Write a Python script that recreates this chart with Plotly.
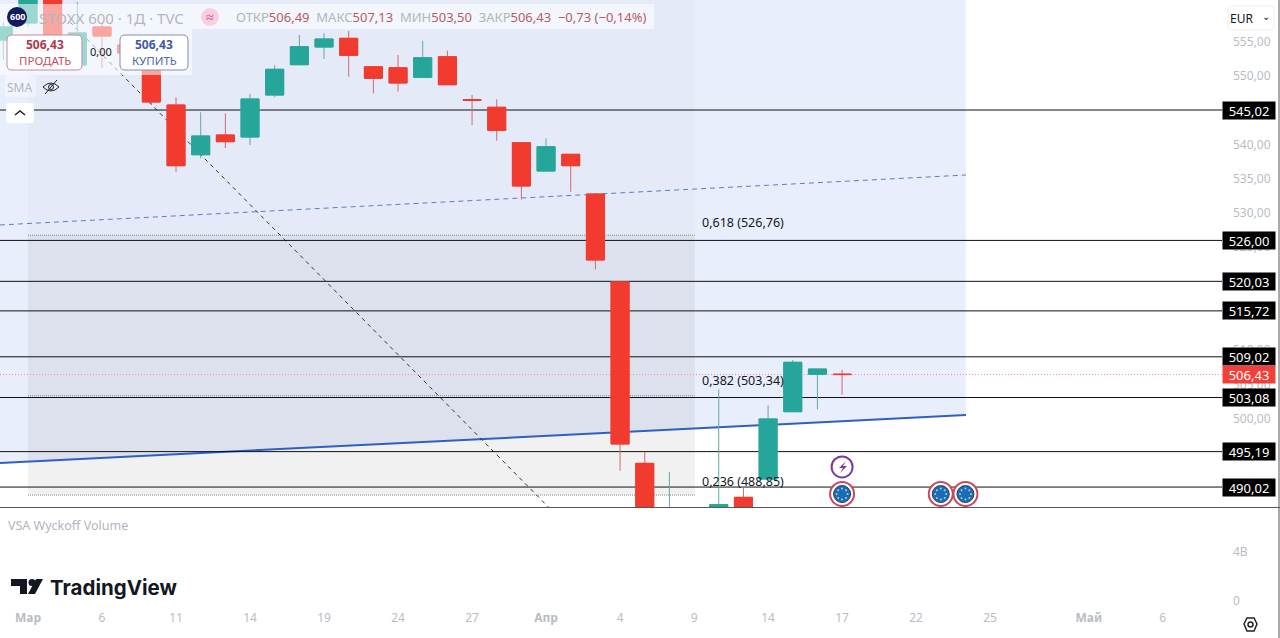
import math
import plotly.graph_objects as go

W, H = 1280, 638

# trading bars, x = bar number counted from 3 March
bar_x = list(range(-1, 34))
opens = [555.23, 557.72, 563.0, 551.59, 557.13, 554.5, 552.32, 545.75, 538.5, 541.38, 541.08, 547.21,
         551.63, 554.21, 555.48, 551.34, 551.19, 549.79, 552.8, 546.54, 545.42, 540.25, 536.12, 538.56,
         532.77, 519.93, 493.48, 476.0, 478.0, 482.0, 488.52, 491.19, 501.01, 506.47, 506.49]
highs = [557.86, 565.0, 564.0, 560.78, 557.71, 555.3, 553.8, 546.88, 544.69, 544.54, 547.36, 551.59,
         555.96, 556.21, 556.55, 551.34, 553.05, 555.13, 553.67, 547.21, 546.58, 540.25, 540.89, 538.56,
         532.77, 519.93, 495.13, 492.22, 484.0, 504.28, 490.07, 501.94, 508.55, 507.24, 507.13]
lows = [552.32, 557.2, 554.0, 551.0, 551.15, 552.6, 545.75, 536.02, 537.98, 539.48, 539.92, 546.88,
        551.6, 552.46, 549.88, 547.46, 547.69, 549.79, 548.71, 542.84, 540.54, 531.96, 536.12, 533.1,
        521.78, 492.4, 480.0, 470.0, 468.0, 478.0, 481.0, 491.19, 501.01, 501.36, 503.5]
closes = [557.13, 563.0, 554.5, 556.26, 555.82, 553.34, 546.19, 536.9, 541.23, 540.4, 546.63, 550.96,
          554.26, 555.38, 553.0, 549.65, 548.96, 552.65, 548.71, 546.45, 542.06, 533.94, 539.67, 536.9,
          523.14, 496.3, 484.0, 482.0, 473.0, 487.45, 484.0, 499.95, 508.22, 507.24, 506.43]

levels = [545.02, 526.00, 520.03, 515.72, 509.02, 503.08, 495.19, 490.02]
last_price = 506.43

fib_ratios = ["0,618", "0,382", "0,236"]
fib_prices = [526.76, 503.34, 488.85]

# 545, 520 and 515 sit fully behind the price tags in the picture
price_ticks = [500, 505, 510, 525, 530, 535, 540, 550, 555]
volume_ticks = [0, 4]
volume_labels = ["0", "4B"]

date_ticks = [0, 3, 6, 9, 12, 15, 18, 21, 24, 27, 30, 33, 36, 39, 43, 46]
date_labels = ["<b>Мар</b>", "6", "11", "14", "19", "24", "27", "<b>Апр</b>", "4", "9", "14", "17", "22", "25",
               "<b>Май</b>", "6"]

channel_x = [-1.135, 38.02]
channel_top = [528.25, 535.54]
channel_bottom = [493.53, 500.53]
diagonal_x = [1.70, 21.09]
diagonal_y = [557.86, 487.11]

event_x = [33, 37, 38]
event_y = [489.0, 489.0, 489.0]
bolt_x = [33]
bolt_y = [492.95]

X_RANGE = [-1.135, 48.4]
Y_RANGE = [487.11, 561.07]
RED = "#f23a2e"
GREEN = "#26a69a"
TICK = "#b9bcc4"
FONT = "Noto Sans"


def fmt(v):
    return f"{v:.2f}".replace(".", ",")


def px(x, y):
    return f"{x / W:.5f} {1 - y / H:.5f}"


def pane_shape(path, fill=None, line=None, width=1):
    # path is given in screen pixels and converted to paper units here
    parts = []
    for cmd in path:
        if len(cmd) == 1:
            parts.append(cmd[0])
        else:
            coords = cmd[1:]
            parts.append(cmd[0] + " " + " ".join(px(coords[i], coords[i + 1]) for i in range(0, len(coords), 2)))
    return dict(type="path", xref="paper", yref="paper", path=" ".join(parts), fillcolor=fill or "rgba(0,0,0,0)",
                line=dict(color=line or "rgba(0,0,0,0)", width=width), layer="above")


def rounded(x0, y0, x1, y1, r, **kw):
    path = [("M", x0 + r, y0), ("L", x1 - r, y0), ("Q", x1, y0, x1, y0 + r), ("L", x1, y1 - r),
            ("Q", x1, y1, x1 - r, y1), ("L", x0 + r, y1), ("Q", x0, y1, x0, y1 - r), ("L", x0, y0 + r),
            ("Q", x0, y0, x0 + r, y0), ("Z",)]
    return pane_shape(path, **kw)


def circle(cx, cy, r, fill=None, line=None, width=1):
    return dict(type="circle", xref="paper", yref="paper", x0=(cx - r) / W, x1=(cx + r) / W, y0=1 - (cy + r) / H,
                y1=1 - (cy - r) / H, fillcolor=fill or "rgba(0,0,0,0)",
                line=dict(color=line or "rgba(0,0,0,0)", width=width), layer="above")


def label(x, y, text, size=12, color="#000", anchor="left", family=FONT):
    # annotations pad their text by a couple of pixels
    if anchor == "left":
        x -= 2
    return dict(xref="paper", yref="paper", x=x / W, y=1 - y / H, text=text, showarrow=False, xanchor=anchor,
                yanchor="middle", font=dict(family=family, size=size, color=color))


def tag(price, bg):
    return dict(xref="paper", yref="y", x=1249 / W, y=price, text=fmt(price), showarrow=False, width=52, height=17,
                xanchor="center", bgcolor=bg, align="center", borderpad=0,
                font=dict(family=FONT, size=13, color="white"))


fig = go.Figure()

# wicks first, bodies on top in their own colours
fig.add_trace(go.Candlestick(x=bar_x, open=opens, high=highs, low=lows, close=closes, whiskerwidth=0,
                             increasing=dict(line=dict(color="#62a9a0", width=1), fillcolor="rgba(0,0,0,0)"),
                             decreasing=dict(line=dict(color="#d0696c", width=1), fillcolor="rgba(0,0,0,0)"),
                             showlegend=False))
fig.add_trace(go.Candlestick(x=bar_x, open=opens, close=closes,
                             high=[max(o, c) for o, c in zip(opens, closes)],
                             low=[min(o, c) for o, c in zip(opens, closes)], whiskerwidth=0,
                             increasing=dict(line=dict(color=GREEN, width=1), fillcolor=GREEN),
                             decreasing=dict(line=dict(color=RED, width=1), fillcolor=RED),
                             showlegend=False))

# the volume pane is empty in the picture, it only needs its axis
fig.add_trace(go.Scatter(x=[], y=[], yaxis="y2", showlegend=False))

# event badges
fig.add_trace(go.Scatter(x=event_x, y=event_y, mode="markers", showlegend=False,
                         marker=dict(size=24, color="white", line=dict(color="#c8485e", width=2))))
fig.add_trace(go.Scatter(x=event_x, y=event_y, mode="markers", showlegend=False,
                         marker=dict(size=17, color="#1c6cb4", line=dict(color="#2a3f5f", width=1))))
dot_x, dot_y = [], []
for ex, ey in zip(event_x, event_y):
    for k in range(8):
        dot_x.append(ex + 5.5 / 24.67 * math.cos(k * math.pi / 4))
        dot_y.append(ey + 5.5 / 6.855 * math.sin(k * math.pi / 4))
fig.add_trace(go.Scatter(x=dot_x, y=dot_y, mode="markers", showlegend=False,
                         marker=dict(size=2, color="#a6cdf0")))
fig.add_trace(go.Scatter(x=bolt_x, y=bolt_y, mode="markers", showlegend=False,
                         marker=dict(size=21, color="white", line=dict(color="#7d3c98", width=2))))

shapes = []
# channel fill down to the solid line
shapes.append(dict(type="path", xref="x", yref="y", layer="below", fillcolor="#e9eefc", line=dict(width=0),
                   path=f"M {channel_x[0]} 575 L {channel_x[1]} 575 L {channel_x[1]} {channel_bottom[1]} "
                        f"L {channel_x[0]} {channel_bottom[0]} Z"))
# fib zones, from the first bar to bar 27
shapes.append(dict(type="rect", xref="x", yref="y", layer="below", x0=0, x1=27.03, y0=fib_prices[0], y1=575,
                   fillcolor="rgba(100,100,110,0.025)", line=dict(width=0)))
shapes.append(dict(type="rect", xref="x", yref="y", layer="below", x0=0, x1=27.03, y0=fib_prices[2],
                   y1=fib_prices[0], fillcolor="rgba(100,100,100,0.09)", line=dict(width=0)))
for p in fib_prices:
    shapes.append(dict(type="line", xref="x", yref="y", layer="below", x0=0, x1=27.03, y0=p, y1=p,
                       line=dict(color="#888", width=1, dash="1px,1px")))
# trend lines
shapes.append(dict(type="line", xref="x", yref="y", layer="below", x0=channel_x[0], x1=channel_x[1],
                   y0=channel_top[0], y1=channel_top[1], line=dict(color="#5a7fc0", width=1, dash="5px,4px")))
shapes.append(dict(type="line", xref="x", yref="y", layer="below", x0=channel_x[0], x1=channel_x[1],
                   y0=channel_bottom[0], y1=channel_bottom[1], line=dict(color="#2f5fc4", width=2)))
shapes.append(dict(type="line", xref="x", yref="y", layer="below", x0=diagonal_x[0], x1=diagonal_x[1],
                   y0=diagonal_y[0], y1=diagonal_y[1], line=dict(color="#333", width=1, dash="4px,4px")))
# levels
for p in levels:
    shapes.append(dict(type="line", xref="x", yref="y", layer="below", x0=X_RANGE[0], x1=X_RANGE[1], y0=p, y1=p,
                       line=dict(color="#111", width=1)))
shapes.append(dict(type="line", xref="x", yref="y", layer="below", x0=X_RANGE[0], x1=X_RANGE[1], y0=last_price,
                   y1=last_price, line=dict(color="#e09a98", width=1, dash="1px,2px")))

# pane borders
shapes.append(pane_shape([("M", 0, 507.5), ("L", W, 507.5)], line="#555"))
shapes.append(pane_shape([("M", 1279, 0), ("L", 1279, H)], line="#555"))

# header overlays
shapes.append(pane_shape([("M", 0, 4), ("L", 654, 4), ("L", 654, 29), ("L", 0, 29), ("Z",)],
                         fill="rgba(255,255,255,0.55)"))
shapes.append(pane_shape([("M", 0, 29), ("L", 192, 29), ("L", 192, 75), ("L", 0, 75), ("Z",)],
                         fill="rgba(255,255,255,0.55)"))
shapes.append(rounded(5, 75, 36, 97, 3, fill="rgba(255,255,255,0.4)"))
shapes.append(rounded(7, 35, 82, 70, 5, fill="white", line="#c98a96"))
shapes.append(rounded(120, 35, 188, 70, 5, fill="white", line="#7f8fb0"))
shapes.append(rounded(6, 103, 34, 123, 3, fill="white"))
shapes.append(pane_shape([("M", 15, 115), ("L", 20, 111), ("L", 25, 115)], line="#222", width=1.5))
shapes.append(circle(17, 17, 10, fill="#141a5e"))
shapes.append(circle(210, 17, 9, fill="#f7cfe0"))
shapes.append(rounded(1228, 6, 1274, 30, 4, fill="white", line="#eeeeee"))
# crossed eye next to SMA
shapes.append(pane_shape([("M", 43, 87), ("Q", 51, 79, 59, 87), ("Q", 51, 95, 43, 87), ("Z",)], line="#222"))
shapes.append(circle(51, 87, 2.5, line="#222"))
shapes.append(pane_shape([("M", 45, 94), ("L", 57, 80)], line="#222"))
# bolt in the event badge
shapes.append(pane_shape([("M", 846, 461), ("L", 839, 468), ("L", 843, 468), ("L", 840, 473), ("L", 847, 466),
                          ("L", 843, 466), ("Z",)], fill="#7d3c98"))
# TradingView logo
shapes.append(pane_shape([("M", 11, 579), ("L", 27, 579), ("L", 27, 594), ("L", 20, 594), ("L", 20, 586),
                          ("L", 11, 586), ("Z",)], fill="#131722"))
shapes.append(circle(32, 582.5, 3.5, fill="#131722"))
shapes.append(pane_shape([("M", 36, 579), ("L", 43, 579), ("L", 35, 594), ("L", 28, 594), ("Z",)], fill="#131722"))
# settings hexagon
shapes.append(pane_shape([("M", 1244, 624), ("L", 1247, 618), ("L", 1254, 618), ("L", 1257, 624), ("L", 1254, 631),
                          ("L", 1247, 631), ("Z",)], line="#222", width=1.5))
shapes.append(circle(1250.5, 624.5, 2.5, line="#222", width=1.5))

annotations = []
# axis price tags
for p in levels:
    annotations.append(tag(p, "#000"))
annotations.append(tag(last_price, "#f0403a"))
for r, p, shift in zip(fib_ratios, fib_prices, [13, 15, 14]):
    annotations.append(dict(xref="x", yref="y", x=27.24, y=p, yshift=shift, text=f"{r} ({fmt(p)})", showarrow=False,
                            xanchor="left", font=dict(family=FONT, size=12.5, color="#131722")))

GR = "#b2b5be"
DR = "#b85c64"
annotations += [
    label(17, 17, "<b>600</b>", size=9, color="white", anchor="center"),
    label(39, 18, "STOXX 600 · 1Д · TVC", size=15, color="#b4b7c0"),
    label(210, 17, "≈", size=14, color="#d0487e", anchor="center"),
    label(236, 17, f'ОТКР<span style="color:{DR}">506,49</span>  МАКС<span style="color:{DR}">507,13</span>  '
                   f'МИН<span style="color:{DR}">503,50</span>  ЗАКР<span style="color:{DR}">506,43</span>  '
                   f'<span style="color:{DR}">−0,73 (−0,14%)</span>', size=13, color=GR),
    label(44.5, 45, "<b>506,43</b>", size=12, color="#b2384a", anchor="center"),
    label(44.5, 60, "ПРОДАТЬ", size=11.5, color="#c0505e", anchor="center"),
    label(154, 45, "<b>506,43</b>", size=12, color="#3d5aa8", anchor="center"),
    label(154, 60, "КУПИТЬ", size=11.5, color="#4f68ad", anchor="center"),
    label(101, 51, "0,00", size=11, color="#131722", anchor="center"),
    label(7, 87, "SMA", size=12, color=GR),
    label(8, 525, "VSA Wyckoff Volume", size=12.5, color=GR),
    label(50, 587, "<b>TradingView</b>", size=20.5, color="#131722", family="Inter"),
    label(1241, 18, "EUR", size=12, color="#131722", anchor="center"),
    label(1266, 16, "⌄", size=10, color="#131722", anchor="center"),
]

fig.update_layout(
    width=W, height=H, autosize=False, margin=dict(l=0, r=0, t=0, b=0),
    paper_bgcolor="white", plot_bgcolor="rgba(0,0,0,0)",
    boxmode="overlay", boxgap=0.27, boxgroupgap=0, showlegend=False,
    font=dict(family=FONT),
    shapes=shapes, annotations=annotations,
    xaxis=dict(domain=[0, 1222 / W], range=X_RANGE, anchor="y2", rangeslider=dict(visible=False),
               tickmode="array", tickvals=date_ticks, ticktext=date_labels, showgrid=False, zeroline=False,
               ticks="", showline=False, tickfont=dict(size=12, color=TICK, family=FONT)),
    yaxis=dict(domain=[1 - 507 / H, 1], range=Y_RANGE, side="right", anchor="x",
               tickmode="array", tickvals=price_ticks, ticktext=[fmt(t) for t in price_ticks], showgrid=False,
               zeroline=False, ticks="", ticklabelstandoff=10, tickfont=dict(size=12, color=TICK, family=FONT)),
    yaxis2=dict(domain=[1 - 609 / H, 1 - 509 / H], range=[-0.65, 7.5], side="right", anchor="x",
                tickmode="array", tickvals=volume_ticks, ticktext=volume_labels, showgrid=False, zeroline=False,
                ticks="", ticklabelstandoff=10, tickfont=dict(size=12, color=TICK, family=FONT)),
)

fig.write_html("out.html", config={"displayModeBar": False},
               post_script="document.body.style.margin='0';document.body.style.overflow='hidden';")
